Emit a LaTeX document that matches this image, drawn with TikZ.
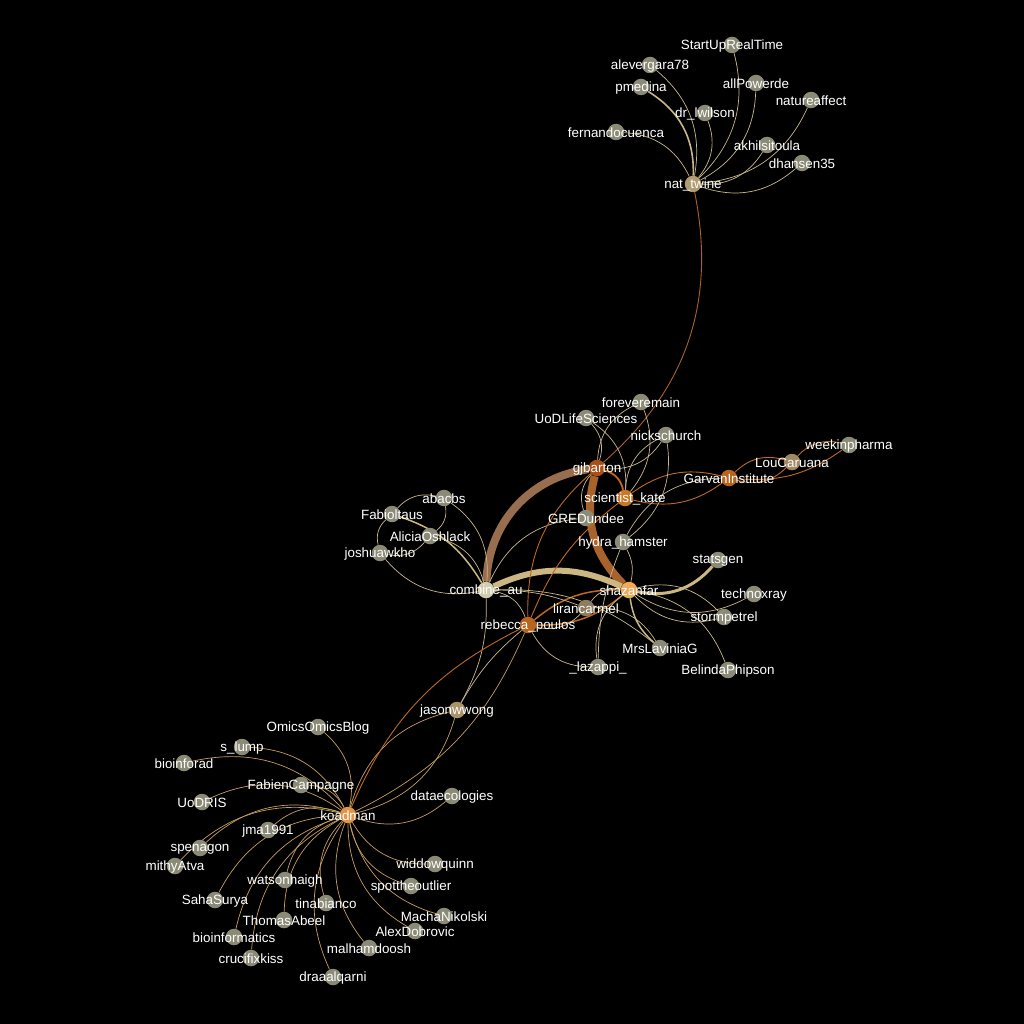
\documentclass[tikz,border=0pt]{standalone}
\usepackage{fontspec}
\setmainfont{Liberation Sans}
\usepackage{xcolor}
\definecolor{leaf}{RGB}{138,138,118}
\definecolor{hubA}{RGB}{168,80,24}
\definecolor{hubB}{RGB}{200,120,40}
\definecolor{hubC}{RGB}{184,100,30}
\definecolor{hubD}{RGB}{240,170,90}
\definecolor{hubE}{RGB}{224,150,72}
\definecolor{hubF}{RGB}{176,156,112}
\definecolor{hubG}{RGB}{210,205,175}
\definecolor{hubH}{RGB}{140,124,96}
\definecolor{hubI}{RGB}{168,148,104}
\definecolor{hubJ}{RGB}{160,136,100}
\definecolor{tanedge}{RGB}{200,184,140}
\definecolor{koaedge}{RGB}{196,158,96}
\definecolor{hotedge}{RGB}{192,104,32}
\definecolor{thkA}{RGB}{152,110,78}
\definecolor{thkB}{RGB}{168,98,44}
\definecolor{thkC}{RGB}{204,182,130}
\tikzset{usr/.style={circle, minimum size=16.5pt, inner sep=0pt}}
\tikzset{lbl/.style={text=white, font=\fontsize{13.4}{15}\selectfont, inner sep=0pt, yshift=-1pt}}
\tikzset{lnk/.style={draw=tanedge, line width=.7pt, bend left=30}}
\tikzset{koa/.style={draw=koaedge, line width=.7pt, bend left=30}}
\tikzset{hot/.style={draw=hotedge, line width=.9pt, bend left=30}}
\newcommand{\usr}[2]{ node[name={#1}, usr, fill=leaf, label={[lbl]center:#2}] {}}
\newcommand{\hub}[3]{ node[name={#2}, usr, fill=#1, label={[lbl]center:#3}] {}}
\pgfdeclarelayer{edges}
\pgfsetlayers{edges,main}

\begin{document}
\begin{tikzpicture}[x=1pt, y=-1pt]

  % --- nat_twine ---
  \draw (693,184) \hub{hubF}{nat}{nat\_twine};
  \draw (732,45) \usr{sur}{StartUpRealTime};
  \draw (650,65) \usr{ale}{alevergara78};
  \draw (641,87) \usr{pme}{pmedina};
  \draw (756,83) \usr{apw}{allPowerde};
  \draw (811,100) \usr{naf}{natureaffect};
  \draw (705,113) \usr{drl}{dr\_lwilson};
  \draw (616,132) \usr{fer}{fernandocuenca};
  \draw (767,145) \usr{akh}{akhilsitoula};
  \draw (802,163) \usr{dha}{dhansen35};

  % --- centre ---
  \draw (641,402) \usr{fev}{foreveremain};
  \draw (586,418) \usr{uod}{UoDLifeSciences};
  \draw (666,435) \usr{nic}{nickschurch};
  \draw (849,445) \usr{wip}{weekinpharma};
  \draw (792,462) \hub{hubJ}{lou}{LouCaruana};
  \draw (729,478) \hub{hubC}{gar}{GarvanInstitute};
  \draw (597,468) \hub{hubA}{gjb}{gjbarton};
  \draw (625,498) \hub{hubB}{sci}{scientist\_kate};
  \draw (586,518) \usr{gre}{GREDundee};
  \draw (623,542) \usr{hyd}{hydra\_hamster};
  \draw (718,560) \usr{sta}{statsgen};
  \draw (754,594) \usr{tec}{technoxray};
  \draw (724,617) \usr{sto}{stormpetrel};
  \draw (586,608) \hub{hubH}{lir}{lirancarmel};
  \draw (528,625) \hub{hubC}{reb}{rebecca\_poulos};
  \draw (660,648) \usr{mrs}{MrsLaviniaG};
  \draw (598,667) \usr{laz}{\_lazappi\_};
  \draw (728,670) \usr{bel}{BelindaPhipson};
  \draw (629,590) \hub{hubD}{sha}{shazanfar};

  % --- combine_au ---
  \draw (444,498) \usr{aba}{abacbs};
  \draw (392,514) \usr{fab}{Fabioltaus};
  \draw (430,536) \usr{ali}{AliciaOshlack};
  \draw (380,553) \usr{jos}{joshuawkho};
  \draw (486,590) \hub{hubG}{com}{combine\_au};
  \draw (457,710) \hub{hubI}{jas}{jasonwwong};

  % --- koadman ---
  \draw (318,727) \usr{omi}{OmicsOmicsBlog};
  \draw (242,747) \usr{slu}{s\_lump};
  \draw (184,763) \usr{bif}{bioinforad};
  \draw (301,785) \usr{fca}{FabienCampagne};
  \draw (202,802) \usr{uor}{UoDRIS};
  \draw (452,796) \usr{dat}{dataecologies};
  \draw (268,830) \usr{jma}{jma1991};
  \draw (200,848) \usr{spe}{spenagon};
  \draw (175,866) \usr{mit}{mithyAtva};
  \draw (435,864) \usr{wid}{widdowquinn};
  \draw (285,880) \usr{wat}{watsonhaigh};
  \draw (411,886) \usr{spo}{spottheoutlier};
  \draw (215,900) \usr{sah}{SahaSurya};
  \draw (326,903) \usr{tin}{tinabianco};
  \draw (284,920) \usr{tho}{ThomasAbeel};
  \draw (444,916) \usr{mac}{MachaNikolski};
  \draw (415,931) \usr{adb}{AlexDobrovic};
  \draw (234,937) \usr{bio}{bioinformatics};
  \draw (369,948) \usr{mal}{malhamdoosh};
  \draw (251,958) \usr{cru}{crucifixkiss};
  \draw (333,977) \usr{dra}{draaalqarni};
  \draw (348,815) \hub{hubE}{koa}{koadman};

  \begin{pgfonlayer}{edges}
    \fill[black] (0,0) rectangle (1024,1024);

    % nat_twine
    \draw[lnk] (sur) to (nat);
    \draw[lnk] (ale) to (nat);
    \draw[lnk, line width=1.6pt] (pme) to (nat);
    \draw[lnk] (apw) to (nat);
    \draw[lnk] (naf) to (nat);
    \draw[lnk] (drl) to (nat);
    \draw[lnk] (fer) to (nat);
    \draw[lnk] (akh) to (nat);
    \draw[lnk] (dha) to (nat);
    \draw[hot, draw=thkB] (nat) to (gjb);

    % thick ones
    \draw[line width=8pt, draw=thkA] (com) to[bend left=40] (gjb);
    \draw[line width=8pt, draw=thkB] (sha) to[bend left=30] (gjb);
    \draw[line width=6pt, draw=thkC] (com) to[bend left=25] (sha);
    \draw[line width=3pt, draw=thkC] (sta) to[bend left=30] (sha);

    % centre
    \draw[hot, line width=1.8pt] (gjb) to (sci);
    \draw[hot] (sci) to[bend left=25] (gar);
    \draw[hot] (gar) to[bend left=25] (sci);
    \draw[hot] (gar) to (lou);
    \draw[hot] (lou) to (gar);
    \draw[hot] (lou) to (wip);
    \draw[hot] (wip) to[bend left=20] (gar);
    \draw[lnk] (hyd) to (gar);
    \draw[lnk] (nic) to (gjb);
    \draw[lnk] (sci) to (nic);
    \draw[lnk] (nic) to (hyd);
    \draw[lnk] (fev) to (sci);
    \draw[lnk] (gjb) to (fev);
    \draw[lnk] (uod) to (gjb);
    \draw[lnk] (uod) to (sci);
    \draw[lnk] (gre) to (gjb);
    \draw[lnk] (com) to (gre);
    \draw[hot] (reb) to[bend left=25] (gjb);
    \draw[hot] (reb) to[bend left=15] (sci);
    \draw[hot, line width=1.5pt] (reb) to[bend left=20] (sha);
    \draw[hot, line width=1.5pt] (sha) to[bend left=20] (reb);
    \draw[lnk] (lir) to (sha);
    \draw[lnk] (lir) to (reb);
    \draw[lnk] (lir) to (mrs);
    \draw[lnk] (hyd) to[bend left=20] (sha);
    \draw[lnk] (laz) to[bend left=10] (hyd);
    \draw[lnk] (com) to[bend left=20] (mrs);
    \draw[lnk] (com) to[bend left=10] (lir);
    \draw[lnk] (laz) to (reb);
    \draw[lnk] (com) to (reb);
    \draw[lnk, line width=1.5pt] (mrs) to[bend left=20] (sha);
    \draw[lnk] (tec) to (sha);
    \draw[lnk] (sto) to (sha);
    \draw[lnk] (sha) to (sto);
    \draw[lnk] (sha) to (bel);
    \draw[lnk] (laz) to (sha);

    % combine_au
    \draw[lnk] (fab) to (aba);
    \draw[lnk] (jos) to (fab);
    \draw[lnk] (aba) to (ali);
    \draw[lnk] (ali) to (jos);
    \draw[lnk, line width=1.5pt, draw=thkC] (fab) to[bend left=20] (com);
    \draw[lnk] (aba) to (com);
    \draw[lnk] (ali) to (com);
    \draw[lnk] (com) to (jos);
    \draw[lnk] (com) to[bend left=15] (jas);
    \draw[lnk] (jas) to[bend left=10] (reb);

    % koadman
    \draw[koa] (koa) to (jas);
    \draw[koa] (jas) to (koa);
    \draw[hot] (koa) to[bend left=20] (reb);
    \draw[koa] (reb) to[bend left=20] (koa);
    \foreach \u in {omi,slu,bif,fca,uor,dat,jma,spe,mit,wid,wat,spo,sah,tin,tho,mac,adb,bio,mal,cru,dra}
      \draw[koa] (\u) to (koa);
  \end{pgfonlayer}

\end{tikzpicture}
\end{document}
